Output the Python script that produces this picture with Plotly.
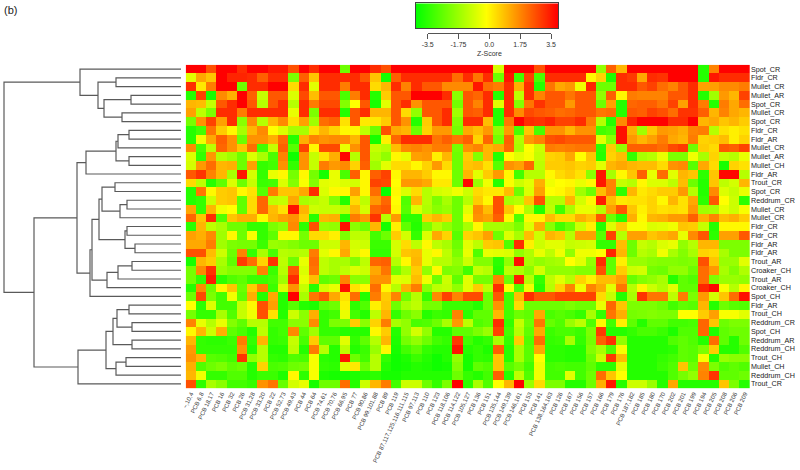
#!/usr/bin/env python3
"""Clustered heatmap of PCB congener z-scores with a sample dendrogram and colour key."""

import numpy as np
import plotly.graph_objects as go

ROW_LABELS = [
    "Spot_CR", "Fldr_CR", "Mullet_CR", "Mullet_AR", "Spot_CR", "Mullet_CR", "Spot_CR",
    "Fldr_CR", "Fldr_AR", "Mullet_CR", "Mullet_AR", "Mullet_CH", "Fldr_AR", "Trout_CR",
    "Spot_CR", "Reddrum_CR", "Mullet_CR", "Mullet_CR", "Fldr_CR", "Fldr_CR", "Fldr_AR",
    "Fldr_AR", "Trout_AR", "Croaker_CH", "Trout_AR", "Croaker_CH", "Spot_CH", "Fldr_AR",
    "Trout_CH", "Reddrum_CR", "Spot_CH", "Reddrum_AR", "Reddrum_CH", "Trout_CH",
    "Mullet_CH", "Reddrum_CH", "Trout_CR",
]

COLUMN_LABELS = [
    "~,10,4", "PCB 6,8", "PCB 18,17", "PCB 16", "PCB 32", "PCB 26", "PCB 31,28", "PCB 33,20",
    "PCB 22", "PCB 52,73", "PCB 49,43", "PCB 44", "PCB 64", "PCB 74,61", "PCB 70,76",
    "PCB 66,95", "PCB 77", "PCB 90,86", "PCB 99,101,88", "PCB 89", "PCB 119",
    "PCB 87,117,125,116,111,115", "PCB 97,113", "PCB 110", "PCB 123", "PCB 118,106",
    "PCB 114,122", "PCB 105,127", "PCB 136", "PCB 151", "PCB 135,144", "PCB 149,139",
    "PCB 146,161", "PCB 153", "PCB 141", "PCB 138,164,163", "PCB 126", "PCB 167", "PCB 156",
    "PCB 157", "PCB 166", "PCB 179", "PCB 176", "PCB 187,182", "PCB 185", "PCB 180", "PCB 170",
    "PCB 202", "PCB 201", "PCB 199", "PCB 194", "PCB 205", "PCB 208", "PCB 206", "PCB 209",
]

# z-scores, one list per row
ZSCORES = [
    [3.5,3.5,2.4,3.5,3.5,2.9,3.5,3.5,3.2,3.2,2.4,3.5,2.9,3.5,3.5,-2,3.5,3.5,2.9,2.4,3.5,3.5,3.5,3.5,3.5,3.5,3.5,3.5,3.5,3.5,-.6,3.5,3.5,3.5,2.4,3.5,3.5,3.5,3.5,3.5,-1.5,2.2,1,3.5,3.5,3.5,3.5,3.5,3.5,3.5,-3,1.7,3.5,3.5,3.5],
    [-.4,1.2,.8,3.5,3,3,2.9,2.2,2.9,2.9,-1.8,2.2,.8,2.9,2.9,2.9,2.9,2.3,.8,-3.2,2.2,2.9,2.9,2.9,2.9,2.9,2,2.9,1.9,2.9,-2,3.2,-2.6,2.6,-2.5,2.9,2.9,2.9,2.9,.1,.6,-3.1,2.9,2.7,1.2,2.9,2.8,3.5,3.5,3.5,-3,3.2,2.9,2.9,2.9],
    [2.9,.3,1.8,3.5,3.5,-2,2.9,2.9,3.5,3.5,.5,2.9,-.4,2.9,2.9,1.8,2.9,2.9,.5,1,2.9,1.7,2.9,2.3,2.3,1.6,1.6,1.6,3.2,2,1.8,2.9,1.1,2.9,-3,1.9,1.2,1.4,-.2,3,-2,-2,2.9,2.9,2.3,2.6,2,1.7,2.3,2.9,1.3,1.3,1.6,1.6,1.8],
    [-3,2.6,-3.2,1.6,1.1,3.5,2.2,-.8,2.3,2.3,-.5,2.5,.9,2.3,2.3,-2.5,1.8,2.9,-3,.7,2.3,2.3,3.5,3.5,3.5,2.9,-1.6,2.3,2.1,2.9,-3,2.9,-.9,2.9,1.7,2.3,2.3,1.9,2.3,2.3,-1.5,2.2,.1,1.8,1.7,1.7,1.7,2.3,2.3,2.9,-3,-1.3,1.4,1,2.6],
    [1,.9,-.8,2.3,2.9,3.5,2.3,-1,2.3,2.9,-1,2.9,1.8,2.5,2.5,-1.7,0,2.3,-3.2,-.4,2.3,2.9,1.5,2.3,2.3,2.3,-1.9,2.3,1.7,2.9,-.4,2.9,-1.7,1.9,2.8,2.3,2.3,1.4,2.3,2.3,-2,1.3,-3,2.1,2.2,2.2,1.9,2.6,1.3,2.9,1.8,-3,1.8,1.2,2],
    [1.3,-.9,-1.8,2.9,2.9,1.8,2.9,2.9,2.9,2.9,-.3,2.9,-1.8,2.9,2.9,-3,2.3,2.9,1,1,2.3,.5,-1.5,2.3,2.3,2.9,-1.3,2.3,2.2,2.9,-3,2.9,1.6,2.5,2.3,2.2,2,2.1,2.3,2.3,1.9,2,-3,2.3,2.2,2.6,2.4,2,2.8,2.8,2.2,1,1.7,1.2,1],
    [-1.9,1.5,2.6,1.3,2.9,-1.6,1.6,-1,1,1.6,.4,1.3,-1.3,2,2.2,.4,2.3,.3,.3,.7,2.3,1.5,-3,.7,2.3,2.9,-1.7,2.9,2.9,.9,-3,1.9,3.5,2.9,2.8,3,2.6,2.6,2.9,1.8,-1,-3,1.6,3,3.5,3.5,3.5,2.9,2.9,3.5,1,1.2,.8,1,.7],
    [-3,-2.6,1.9,.7,.1,-1.2,1,1.6,0,-.5,-1.2,-1.2,.4,1,.6,.1,.1,-.9,-2,2.4,1.2,1,-2,.6,1.4,1.4,-1.9,1.2,.9,1.4,-1.5,1.4,-2.5,.8,-2.5,1.5,1.5,1,1.5,1.5,-2.6,-2.4,3.3,1.1,-1.3,.8,1.4,1.3,1.1,1.7,1.8,-1,.4,.2,.4],
    [-3,-.2,1.2,2.2,1.5,-2,1.5,1.5,1.1,2,-3,1.1,1.7,1.5,1.6,1.6,1,2.3,-3.2,.2,2.1,2.9,2.9,2.9,1.9,2.2,1.9,2.2,.6,2.1,-1.9,2.2,-1.1,1.4,1.7,2.4,2.5,2.3,2.3,2.3,-.4,-1.6,3.3,1.4,1,1.3,1.8,1.2,1,1.8,.6,.7,.9,.2,.6],
    [1.6,-2.5,-.9,2.1,1.5,.8,2,-2.6,-.8,2.2,-2.3,2.6,.1,2.5,2.5,-.3,1.5,2.3,-.8,-1,.9,1.6,1.7,1.5,1.8,1.8,-1.9,1.5,1.7,1,1.2,2.1,-1.2,0,-.7,1.8,1.7,1.8,1.9,1.9,-2.9,.7,-1.5,2.2,2.2,2.2,2,2.5,2.7,-2,.7,.5,2.3,2.2,2.6],
    [-.5,-2.8,1.4,-1,-1.3,-2,-.5,-1.2,-2.5,1.7,-3.3,1.5,-.8,.4,1.1,3.4,-1,2.3,-1,-1.5,.1,-.3,1.3,1.4,.2,1,-2,.7,-1.7,1,-3,0,-.4,-.1,-.8,.6,.7,1.2,0,.8,-3,.6,.9,-2.8,-1.2,-1,-.3,-1.8,-1.8,-.2,-1.2,.6,-.8,-1,-.3],
    [-.6,1.4,2,1,1.1,-2,1.3,-2.8,-2.6,1.5,-2.8,1.5,-.8,1.8,1.4,1.6,.6,2.2,-1.3,-.4,.5,.5,.1,.6,1.4,.5,-2,.8,.9,.4,-2.3,1.5,1.3,2.1,-.9,.7,.7,.8,.6,.7,-.4,1,1.2,1,.9,.9,.5,1.5,1.6,-2.3,1.2,.5,-3.2,.6,.4],
    [2.3,2.8,1.7,1,-1.2,3.2,-.6,-2.8,-.3,.1,-1.9,.1,-1.9,-3.2,-.3,-2.5,2.2,.1,2.2,2.6,.1,1,1,.7,.1,.1,-2,1,-.4,.7,1.4,.1,-2.6,-1,-1,.1,.5,.7,.4,-1.6,3.2,-1.2,.1,.8,2.2,-.3,2,-.4,1,.8,-2.9,.8,3.4,3.4,-1],
    [.5,-.9,-3,-2.2,-.5,-2,-.8,-2.7,-2.6,-.5,-1.7,-.1,-1.7,-.4,-.3,-.5,-.6,.1,2.6,2.5,0,1.4,1.4,1.2,.3,.3,-2,3.4,-1.4,-.2,-3,-.1,-.7,-.4,1.1,-.2,0,.1,-.3,.1,3.2,1.7,-.8,-1,.1,-.5,-.5,-.9,.9,-2,-3,.8,-.9,-.6,1],
    [-3,1.9,.1,.7,.8,.1,.4,-2.3,1.8,.8,.8,1.2,2.9,-.5,.1,.1,1.3,.1,2,-3.4,.1,-.5,.5,-1,-.6,-.5,-.2,-.7,.5,.3,.3,.9,-2,-.5,1.3,0,.1,.4,-1.3,-2,.9,1.7,-2.9,1,.3,.5,.7,.7,1.4,-1,-3,1.6,-.5,-.8,-.3],
    [-3,-2.8,-.7,.7,.8,-2.2,.5,2.1,-.9,-.8,1.2,-1.2,-1,-.8,-1.7,-3,.5,-.9,1.4,2.1,0,-2.4,1,-1,-1.8,-1.2,-2,-1,.7,.1,2.4,-1.2,-1,.8,2.4,-1,-1,1,-.6,.1,3.1,.9,.3,.4,.4,.6,.1,1,.4,1.2,-2.9,2.3,0,-.7,-2.9],
    [1.2,-2.8,1,-.2,0,-2.2,.5,2.1,.9,.4,3.3,1,-.7,-.8,-.8,-.9,1,-.6,2.1,2.3,.1,-2.3,-.5,-1.1,-1.6,-1.4,-2,-.4,1.6,.9,2.4,.8,0,-1.1,-3,-.9,-2.6,-1.2,-.3,-.3,-1,1.3,2.3,.8,.2,.6,.4,.5,.4,1.4,-1.3,-1.2,-.3,-.7,-.1],
    [2.1,.8,2.9,-2.4,.8,1.1,1.1,.1,1,1.3,1.5,.7,-3,1,1.1,-3,1.8,1.4,2.8,-1,1.4,-2.9,-2.9,.7,1,.7,-2,.1,1.5,1.3,2.2,.1,-2.4,.1,.1,.9,.5,.5,1.1,.8,2.3,-2,-3,1.1,.1,1,1.1,1.4,1.4,2.2,1.1,1.7,.9,1.1,.7],
    [-2.9,1,-.9,-1.2,-2,-2,-2.8,-2.8,-1.8,-1.5,1.6,-2.9,2.4,-1.4,-1.5,3.3,-1.6,-2,1,-3.2,.2,-2.2,-3,-1.8,-1,-1.5,-2,-1.2,.1,-1.2,-1.2,-1.3,-1.8,-.5,1.2,-1.6,-2.6,-2,-.7,.2,-3,-.5,.7,-.1,-.1,-.5,-.4,-.2,.8,.7,-.8,-3,.1,.1,.1],
    [1.3,1.1,1.6,-1.3,.1,-2,-.1,-2.8,-2.2,.1,.1,-1.9,.5,.5,.2,-1.8,-.9,-.9,-2.6,-2,.7,-.6,-2.8,-.5,1.2,.6,-2.3,.6,.8,1.3,-2,-.5,-1.2,.9,-.7,1,.8,-1,1.3,1.3,-2.3,2.6,-1,1.3,1.3,.8,1,1.2,-.3,1.6,2.3,-2.9,1.3,1.3,2.3],
    [1.2,1.2,1.8,-1.3,-1.8,-1.9,-1.9,-2.7,-1.4,-1.5,-1.7,-2,-2,-.7,-.7,1,-.6,-.7,-2.7,-2.7,-.6,.5,-.9,.1,-.9,-1.2,-2,-.4,-.9,.7,.8,-2.4,2.9,.2,-.7,-.4,-.4,-.8,-.7,-.6,-2.8,-2.8,.9,-2,-.8,-1,-.5,-.3,-1.5,-1,1,1,-1.8,-1.8,-1.8],
    [2.4,2.4,.9,-.7,-2,1.7,-2.8,-1.2,-2.5,-1,-1.1,-1,1.8,-.4,.1,1.2,-.5,.1,-2.8,-2.8,-.6,.8,.9,-.3,.1,-.9,-1.8,-.3,-2.4,-.3,-.4,-.5,-1.5,-1.1,-.3,-.9,-.2,-1.5,-.2,-.2,0,3,1,-2,-1,-1.2,-.2,-1.2,-1.7,-1.2,.6,.5,-1.2,-1.8,-1.8],
    [-3.2,1,.7,-1.2,-2.2,2.7,2,.6,2.8,-.9,-2,-.3,2,-.9,-1.2,-1.2,-1.7,-.9,2.1,2.2,-1,.1,1,-.3,-1,-1,-1.5,-.7,-1.7,-1.7,-2.9,-1.5,3.3,-1.2,-1.5,-1.3,-1.2,0,-.4,-1.5,2.9,-2.2,.2,-1.4,-1.4,-1.6,-1.7,-1.7,-1.8,-1.7,2.4,.8,-1.4,-1.4,-.4],
    [-1.9,1.6,2.8,-1.4,-1.7,-1.7,-1.7,1.7,-2.7,-1,2.3,-.5,1.9,-.9,-1.2,-.9,-.5,-.7,1.2,1.9,-1.9,-1.1,.7,-1.5,.1,-1.8,-1.7,-2.6,-.8,-1,-3,-.9,-1.1,-1.6,-.6,-1.5,-1.5,-1.5,-1.7,-1.7,2.4,-2.2,.7,-.7,-.6,-1.9,-2,-1.5,-1.5,-2,2,1.4,-1.2,-1.7,-1.1],
    [-1.9,-2.8,3.1,-2.9,-2.4,-2.2,-2.7,-2.7,-2.5,-1.3,2.9,-.3,.9,-2.2,-2,1.7,-1.6,-1.6,1.5,1.5,-.4,-.5,.9,-.2,-2,-.7,-2.2,-.4,-1.9,-1.9,1.7,-2,3.1,-1,-2.8,-.9,-.4,-1,.6,.2,.9,.9,1.3,-2.1,-1.7,-1.5,-1.2,-3,-2.2,-2.4,2,-1.8,-1.4,-1.4,-1.5],
    [-3,1.6,-2,.1,.8,-2,.7,1.7,-2.7,-.5,1.5,-.8,-3,-.6,-.3,3.3,.4,.1,2,.1,-1,1.1,1.8,-1.6,-.9,-.8,-1.5,-.4,.7,-.9,2.9,0,-2.4,-.2,-3,-1,.6,1.7,-.2,1.7,1.2,-.4,1.9,-1,.1,-.7,-1.1,-.4,-2.2,-2.2,3,3.4,-.1,-1,.1],
    [-2,2.5,-1.8,-2.6,-.2,-2.2,1.1,-3,1.2,-3,3.5,-1.2,1.9,2.3,1.2,.4,2,-3,1.8,.7,1.7,-2,-1,-2.8,1.6,2.6,1.7,2.5,2.5,-2,2.3,-2.6,.9,2.9,2.3,2.3,2.6,2.6,2.6,2.6,.5,-.8,-3,-1.2,2.8,1.9,1.9,-.9,1.8,-1.8,1.4,-.6,.8,2,3.3],
    [0,-2.9,-.5,-2.6,-2.6,-.8,.1,2.4,1.3,-3,-2.3,-3,-3.1,-2.2,-2,.2,-2.9,-2.4,.2,.8,-2,-1.2,-.9,-1.9,-1.9,-2.7,-2.7,-2.7,-3,-2,1.5,-2.6,.5,-2,-2,-2,-2,-1.8,-2,-2,-.3,2.1,.8,-1.8,-1.8,-1.8,-2,-2.6,-2.2,-2.3,1,-3,-2,-2.3,-2.4],
    [-1.9,-2.8,-2.8,-1.2,-2.4,-.8,-.2,2.4,.4,-3,-.7,-1.6,1.1,-2.8,-2.6,-.3,-2.6,-3,-.9,1,-2.8,-2,-1.6,-3,-2.7,-2.8,1.7,-2.9,-2.2,-2.2,1,-2.6,-2,-2.2,1.2,-2.5,-2.3,-2.5,-2.8,-1.2,-2.8,1.9,1.1,-1.9,-1.8,-1.7,-1.8,-1.8,0,0,.7,1.3,-.1,-.1,-.4],
    [1.7,-.3,-1,-.3,-1.7,-2.2,-1,-1,-2.6,-2.6,-1.6,-1.6,1.6,-2.8,-1.8,-1.8,.7,-1.6,.6,1.8,-1.2,-1.5,-2.5,-2.4,-2,-1.2,1.4,-.9,-2.4,-2.2,2.9,-2.8,-.8,-2,1.9,-2.1,-2.4,-1.4,-.9,-2.4,.1,-2.6,.2,-2.2,-3,-2.2,-2.2,-2.6,-2.6,-2.5,2.1,.8,-2,-1.8,-1.8],
    [.1,1,-.7,1.1,-2.2,-2.5,-3,-.9,-2.8,-2.6,1.6,-2.2,-1.3,-2.8,-2.8,-3,-3,-3,.1,.7,-3,-1.5,-.6,-1.5,-3,-3,-2.2,-2.2,-1.8,-1.4,2.6,-2.6,-1,-2.2,1.2,-2.7,-2.5,-2.5,-2.7,-1.8,2.7,-3,-3,-2.8,-2.5,-2.5,-2.7,-3.1,-2.4,-2.4,2.1,-3.1,-2.2,-2,-2],
    [1,-2.8,-2.9,-2.9,-2.7,1.8,-2.8,1,-2.8,-2.7,-.8,-2.5,.7,-2.2,-2.2,-.4,-2.8,-2.2,-1,1,-3.1,-1.9,-1.5,-2,-2.6,-2.8,2.7,-2.6,-3,-2.8,-1.2,-2.8,.7,-2.4,2,-2.8,-2.7,-1.2,-2.8,-1.9,2.2,2.8,-1.5,-3,-3,-3,-3,-2.4,-2.2,-2.4,-3,2,-2.2,-3,-2],
    [1.4,-2.8,-2.8,-2.8,-2.8,1.5,-3,-1,-3,-3,-.9,-3,1.8,-1,-3,-.9,-3,-2.7,-1.4,.1,-3.2,-2.6,-2.2,-2.8,-3,-3,3.2,-3,-2.8,-3.1,2.2,-3,-1.2,-2.3,1.2,-2.9,-2.9,-3,-3,-1.7,-1.2,-2.4,-.1,-3,-3,-3,-3,-2.9,-2.2,-2.3,-1.8,.7,-3,-3,-2.4],
    [1.5,1,-2.3,-2.4,-2.6,2.8,-1.5,-1,-2.8,-2.9,-2.4,-2.5,-.1,-2.9,-3,3.2,-2,-2.6,-1,-2.8,-3.3,-3.1,-2.7,-3,-3.3,-3,-1.5,-3.2,-2.8,-2.9,.8,-3,-1.2,-2.3,0,-2.9,-2.9,-3,-3,-2,-.7,2.7,.9,-3,-3,-3,-2.8,-2.6,-2.2,-2.3,-.1,-3,-1.4,-1.6,-1.6],
    [1.1,-2.4,-2,-1.8,-2.2,-2,-3,.6,-2.5,-2.4,-2,-1.9,-.1,-2.8,-2.9,-.4,.3,-2,-1,-3,-3.3,-3.2,-3,-3.1,-3.3,-3.2,-1.7,-3.2,-2.2,-2.4,.8,-2.3,-1.9,-2.6,-.2,-2.6,-2.5,-2.6,-2.6,-2.2,-2.9,-2.9,-.4,-3,-3,-3,-2.7,-2.4,.8,-2,1.6,-1.8,-2.4,-2.2,-2.4],
    [1,-.2,-2.8,-2.8,-2.4,-2.4,-3,-2.7,-2.7,-3.1,.1,-2.9,-.1,-3.1,-3.2,-3.2,-3.1,-3,-2.9,-3.2,-3.2,-3,-3,-3,-3,-3,-2,-2.8,-3,-2.6,2.2,-3,-.9,-2.4,-.2,-2.6,-2.6,-.4,-2.6,-2,2,.8,0,-3,-3,-3,-3,-2.4,-1.9,-1.5,1.7,2.8,-2.2,-2.2,-2],
    [2.4,-2.9,-1.2,-1.6,-2.6,-2.6,-2.8,1.5,1.9,-2.1,-.6,-.3,-3.2,-2,-2,2,-3,-.7,1,1.8,-2.6,-.7,-.7,-2,-2.8,-1.8,3.5,-2.9,-1.2,-2.4,0,1,3.5,-1.4,.5,-1.8,-1.8,-3,-3,-2,1.1,3.2,-3,-.7,-.7,-1.4,-3,1.2,-3,-3,-3,-3,.8,-1.8,-3],
]

# sample tree: (merge height, upper child, lower child); ints are row positions
TREE = (177,
    (101, 0, (83, (65, 1, 2), (77, (50, 3, 4), (59, 5, 6)))),
    (147,
        (104, (95, (65, (63, (52, 7, 8), 9), (52, 10, 11)), 12),
            (91,
                (89, (82, (79, (66, 13, 14), (61, (54, 15, 16), 17)), (56, (54, 18, 19), (46, 20, 21))),
                    (74, (63, (49, 22, 23), 24), 25)),
                26)),
        (103, (75, (68, (64, (52, 27, 28), (49, 29, 30)), (49, 31, 32)), (65, (55, 33, 34), 35)), 36)))

KEY_TICKS = [-3.5, -1.75, 0, 1.75, 3.5]
KEY_TICK_TEXT = ["-3.5", "-1.75", "0.0", "1.75", "3.5"]

GYR = [[0, "#00FF00"], [0.5, "#FFFF00"], [1, "#FF0000"]]
FONT = "Liberation Sans"
TEXT_COLOR = "#333333"

W, H = 800, 470


def xdom(left, right):
    return [left / W, right / W]


def ydom(top, bottom):
    return [1 - bottom / H, 1 - top / H]


def tree_lines(node, xs, ys):
    """Walk the tree, collecting elbow segments; returns (height, y) of the node."""
    if isinstance(node, int):
        return 0, node
    height, upper, lower = node
    uh, uy = tree_lines(upper, xs, ys)
    lh, ly = tree_lines(lower, xs, ys)
    xs.extend([uh, height, height, lh, None])
    ys.extend([uy, uy, ly, ly, None])
    return height, (uy + ly) / 2


for row in ZSCORES:
    if len(row) != len(COLUMN_LABELS):
        raise ValueError(f"row has {len(row)} cells: {row[:4]}")
if len(ZSCORES) != len(ROW_LABELS):
    raise ValueError(f"{len(ZSCORES)} rows")

fig = go.Figure()

fig.add_trace(go.Heatmap(
    z=ZSCORES,
    x=list(range(len(COLUMN_LABELS))),
    y=list(range(len(ROW_LABELS))),
    zmin=-3.5, zmax=3.5,
    colorscale=GYR,
    showscale=False,
    xaxis="x", yaxis="y",
))

line_x, line_y = [], []
tree_lines(TREE, line_x, line_y)
fig.add_trace(go.Scatter(
    x=line_x, y=line_y,
    mode="lines",
    line={"color": "#5a5a5a", "width": 1.2},
    hoverinfo="skip",
    showlegend=False,
    xaxis="x2", yaxis="y",
))

# Colour key: gradient runs a little past the labelled ticks on both sides
key_x = np.linspace(-4.18, 3.9, 143)
fig.add_trace(go.Heatmap(
    z=[np.linspace(-3.5, 3.5, 143).tolist()],
    x=key_x.tolist(),
    zmin=-3.5, zmax=3.5,
    colorscale=GYR,
    showscale=False,
    xaxis="x3", yaxis="y3",
))
fig.add_trace(go.Scatter(
    x=KEY_TICKS, y=[0] * len(KEY_TICKS),
    mode="markers",
    marker={"opacity": 0},
    hoverinfo="skip",
    showlegend=False,
    xaxis="x4", yaxis="y4",
))

fig.add_annotation(
    text="(b)", xref="paper", yref="paper", x=2 / W, y=1 - 2 / H,
    xanchor="left", yanchor="top", showarrow=False,
    font={"family": FONT, "size": 11, "color": "#222222"},
)

small = {"family": FONT, "size": 7, "color": TEXT_COLOR}

fig.update_layout(
    template="none",
    width=W, height=H,
    margin={"l": 0, "r": 0, "t": 0, "b": 0},
    paper_bgcolor="white",
    plot_bgcolor="white",
    showlegend=False,
    xaxis={
        "domain": xdom(185.7, 750), "anchor": "y",
        "range": [-0.5, 54.5],
        "tickmode": "array",
        "tickvals": list(range(len(COLUMN_LABELS))),
        "ticktext": COLUMN_LABELS,
        "tickangle": -65,
        "tickfont": {"family": FONT, "size": 6, "color": TEXT_COLOR},
        "ticks": "", "showgrid": False, "zeroline": False, "showline": False,
    },
    yaxis={
        "domain": ydom(64.7, 388.3), "anchor": "x", "side": "right",
        "range": [36.5, -0.5],
        "tickmode": "array",
        "tickvals": list(range(len(ROW_LABELS))),
        "ticktext": ROW_LABELS,
        "tickfont": {"family": FONT, "size": 7.2, "color": "#222222"},
        "ticks": "", "showgrid": False, "zeroline": False, "showline": False,
    },
    xaxis2={
        "domain": xdom(0, 181), "anchor": "y",
        "range": [181, 0],
        "visible": False,
    },
    xaxis3={
        "domain": xdom(415.7, 558), "anchor": "y3",
        "range": [-4.18, 3.9],
        "showticklabels": False, "ticks": "", "showgrid": False, "zeroline": False,
        "showline": True, "mirror": True, "linecolor": "#444444", "linewidth": 1.2,
    },
    yaxis3={
        "domain": ydom(3.3, 28.3), "anchor": "x3",
        "showticklabels": False, "ticks": "", "showgrid": False, "zeroline": False,
        "showline": True, "mirror": True, "linecolor": "#444444", "linewidth": 1.2,
    },
    xaxis4={
        "domain": xdom(427.7, 551), "anchor": "y4",
        "range": [-3.5, 3.5],
        "tickmode": "array", "tickvals": KEY_TICKS, "ticktext": KEY_TICK_TEXT,
        "tickfont": small,
        "ticks": "outside", "ticklen": 5, "tickcolor": "#555555", "tickwidth": 1,
        "showline": True, "linecolor": "#555555", "linewidth": 1,
        "showgrid": False, "zeroline": False,
        "title": {"text": "Z-Score", "font": small, "standoff": 3},
    },
    yaxis4={
        "domain": ydom(32, 33), "anchor": "x4",
        "visible": False,
    },
)

# page body margin would push the plot off the 800x470 window
fig.write_html(
    "out.html",
    config={"displayModeBar": False},
    post_script="document.body.style.margin = '0';",
)
